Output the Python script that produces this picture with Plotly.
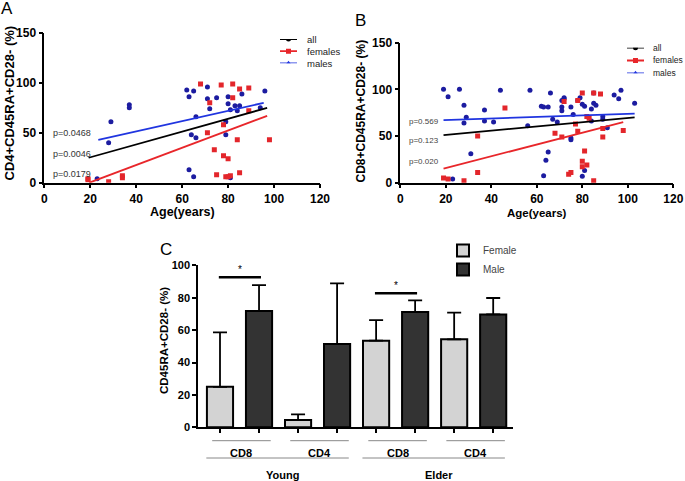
"""
Age vs CD45RA+CD28- T-cell share (panels A, B) and sex comparison bars (panel C).
"""

## ----------- imports ----------- ##
import plotly.graph_objects as go


## ----------- data ----------- ##
# panel A: CD4+CD45RA+CD28- (%)
a_fem_age = [19, 19, 28, 34, 34, 68, 77, 82, 85, 89, 72, 82, 89, 78, 71, 84, 98, 74, 78, 80, 75, 79, 81, 85, 80]
a_fem_val = [4, 3, 1, 7, 5, 99, 98, 99, 94, 95, 80, 85, 72, 58, 50, 43, 43, 33, 27, 24, 8, 6, 7, 10, 6]
a_male_age = [23, 28, 29, 37, 37, 62, 63, 63, 65, 64, 66, 66, 65, 71, 71, 72, 75, 79, 80, 80, 81, 81, 83, 85, 84, 86, 94, 96, 79]
a_male_val = [4, 40, 61, 78, 75, 93, 86, 13, 92, 48, 45, 66, 6, 96, 84, 74, 85, 48, 86, 79, 73, 5, 77, 77, 72, 89, 75, 92, 61]
a_fit_all = ([19.3, 97], [25, 75])
a_fit_fem = ([19.6, 97], [0, 67])
a_fit_male = ([23.5, 95.5], [43, 80])
a_pvals = ["p=0.0468", "p=0.0046", "p=0.0179"]
a_pval_y = [50, 29, 9]

# panel B: CD8+CD45RA+CD28- (%)
b_fem_age = [19, 21, 28, 34, 34, 46, 72, 78, 80, 85, 88, 82, 83, 77, 89, 98, 68, 78, 71, 89, 81, 80, 82, 80, 74, 75, 85]
b_fem_val = [5, 4, 2, 50, 11, 80, 87, 88, 96, 96, 95, 71, 69, 63, 58, 56, 53, 55, 49, 49, 34, 23, 19, 17, 9, 11, 2]
b_male_age = [19, 21, 26, 28, 37, 44, 29, 28, 37, 41, 31, 23, 57, 66, 62, 63, 65, 71, 72, 72, 71, 71, 75, 79, 78,
              80, 81, 85, 84, 85, 86, 94, 97, 96, 103, 67, 69, 76, 84, 89, 89, 56, 91, 75, 75, 65, 64, 81, 63, 80]
b_male_val = [100, 92, 100, 83, 78, 99, 70, 64, 66, 65, 31, 4, 99, 96, 82, 81, 81, 88, 91, 90, 81, 77, 81, 91, 88,
              84, 82, 96, 79, 85, 83, 94, 99, 90, 85, 68, 65, 73, 66, 71, 68, 61, 59, 48, 46, 33, 24, 13, 7.5, 7]
b_fit_all = ([19, 103], [51, 70])
b_fit_fem = ([19, 98], [15, 65])
b_fit_male = ([19, 103], [67, 74])
b_pvals = ["p=0.569", "p=0.123", "p=0.020"]
b_pval_y = [66, 45, 23]

# key of the two age panels
fit_names = ["all", "females", "males"]
fit_colors = ["black", "#e8262a", "#2035e0"]
fit_symbols = ["circle", "square", "triangle-up"]

# panel C: bars (mean and top of error bar)
c_age_groups = ["Young", "Elder"]
c_cells = ["CD8", "CD4", "CD8", "CD4"]
c_fem_mean = [25, 4.5, 53.5, 54.3]
c_fem_top = [58.6, 8, 66.2, 70.8]
c_male_mean = [71.8, 51.4, 71.2, 69.7]
c_male_top = [87.8, 88.9, 78.4, 79.8]
c_sig_pairs = [0, 2]          # pair index with a * bracket
c_sig_y = [92.6, 82.7]

FONT = "Liberation Sans, Arial, sans-serif"
RED_PT, BLUE_PT = "#e3262b", "#1c1ca0"
FEMALE_COL, MALE_COL = "#d3d3d3", "#333333"


## ----------- helpers ----------- ##
def W(px):
	return px / 685

def H(py):
	return 1 - py / 481


def add_scatter_panel(fig, xa, ya, fem, male, fits):
	"""Points and the three fit lines for one age panel."""
	fig.add_trace(go.Scatter(x=male[0], y=male[1], mode="markers", xaxis=xa, yaxis=ya,
		marker=dict(color=BLUE_PT, size=5, symbol="circle")))
	fig.add_trace(go.Scatter(x=fem[0], y=fem[1], mode="markers", xaxis=xa, yaxis=ya,
		marker=dict(color=RED_PT, size=5, symbol="square")))
	for (fx, fy), col in zip(fits, fit_colors):
		fig.add_trace(go.Scatter(x=fx, y=fy, mode="lines", xaxis=xa, yaxis=ya, line=dict(color=col, width=1.8)))


def add_key(fig, xa, ya):
	"""Small hand-made key (plotly legend rows are too tall here)."""
	for i, (col, sym) in enumerate(zip(fit_colors, fit_symbols)):
		fig.add_trace(go.Scatter(x=[0, 1], y=[i, i], mode="lines", xaxis=xa, yaxis=ya,
			line=dict(color=col, width=1.8)))
		fig.add_trace(go.Scatter(x=[0.5], y=[i], mode="markers", xaxis=xa, yaxis=ya,
			marker=dict(color=col, size=5, symbol=sym)))


## ----------- figure ----------- ##
fig = go.Figure()

add_scatter_panel(fig, "x", "y", (a_fem_age, a_fem_val), (a_male_age, a_male_val), [a_fit_all, a_fit_fem, a_fit_male])
add_scatter_panel(fig, "x2", "y2", (b_fem_age, b_fem_val), (b_male_age, b_male_val), [b_fit_all, b_fit_fem, b_fit_male])
add_key(fig, "x4", "y4")
add_key(fig, "x5", "y5")

# panel C bars: female at even slots, male at odd slots
fem_x = [2 * i for i in range(len(c_cells))]
male_x = [2 * i + 1 for i in range(len(c_cells))]
for xs, means, tops, col, name in [(fem_x, c_fem_mean, c_fem_top, FEMALE_COL, "Female"),
		(male_x, c_male_mean, c_male_top, MALE_COL, "Male")]:
	fig.add_trace(go.Bar(x=xs, y=means, name=name, xaxis="x3", yaxis="y3", width=0.67,
		marker=dict(color=col, line=dict(color="black", width=2)),
		error_y=dict(type="data", symmetric=False, array=[t - m for t, m in zip(tops, means)],
			arrayminus=[0] * len(means), color="black", thickness=1.8, width=7)))

# only the bar traces go into the built-in legend
for tr in fig.data:
	tr.showlegend = tr.type == "bar"

axis_common = dict(showline=True, linecolor="black", linewidth=1.5, ticks="outside", ticklen=4, tickwidth=1.5,
	tickcolor="black", showgrid=False, zeroline=False, automargin=False,
	tickfont=dict(family=FONT, size=12, color="black", weight="bold"))
key_axis = dict(showline=False, showticklabels=False, ticks="", showgrid=False, zeroline=False, fixedrange=True)

fig.update_layout(
	width=685, height=481, margin=dict(l=0, r=0, t=0, b=0, autoexpand=False),
	plot_bgcolor="white", paper_bgcolor="white", barmode="overlay", showlegend=True,
	font=dict(family=FONT),
	xaxis=dict(axis_common, domain=[W(44.3), W(320)], range=[0, 120], dtick=20, anchor="y"),
	yaxis=dict(axis_common, domain=[H(182.7), H(33)], range=[0, 150], dtick=50, anchor="x"),
	xaxis2=dict(axis_common, domain=[W(400.3), W(673.3)], range=[0, 120], dtick=20, anchor="y2"),
	yaxis2=dict(axis_common, domain=[H(182.7), H(42.7)], range=[0, 150], dtick=50, anchor="x2"),
	xaxis3=dict(axis_common, domain=[W(198.3), W(512.7)], range=[-0.556, 7.5], tickvals=fem_x + male_x,
		showticklabels=False, linewidth=2, tickwidth=2, anchor="y3"),
	yaxis3=dict(axis_common, domain=[H(427.3), H(265.3)], range=[0, 100], dtick=20, linewidth=2, tickwidth=2,
		anchor="x3", tickfont=dict(family=FONT, size=11, color="black", weight="bold")),
	# key boxes: the line spans x 0..1 (17 px), labels sit further right; rows 0..2 from top
	xaxis4=dict(key_axis, domain=[W(280), W(331)], range=[0, 3], anchor="y4"),
	yaxis4=dict(key_axis, domain=[H(63.3), H(39)], range=[2, 0], anchor="x4"),
	xaxis5=dict(key_axis, domain=[W(627), W(678)], range=[0, 3], anchor="y5"),
	yaxis5=dict(key_axis, domain=[H(73.3), H(47.7)], range=[2, 0], anchor="x5"),
	legend=dict(x=W(443), y=H(236), xanchor="left", yanchor="top", bgcolor="rgba(0,0,0,0)",
		font=dict(family=FONT, size=10, color="#444"), itemwidth=30),
)

## ----------- text ----------- ##
ann = []
def txt(x, y, s, size, xref="paper", yref="paper", **kw):
	color = kw.pop("color", "black")
	weight = kw.pop("weight", "normal")
	kw.setdefault("xanchor", "center")
	kw.setdefault("yanchor", "middle")
	ann.append(dict(x=x, y=y, xref=xref, yref=yref, text=s, showarrow=False,
		font=dict(family=FONT, size=size, color=color, weight=weight), **kw))

# panel letters
txt(W(7), H(9), "A", 17)
txt(W(361), H(21), "B", 17)
txt(W(166), H(249), "C", 17)

# axis titles
txt(W(8.5), H(103), "CD4+CD45RA+CD28- (%)", 13, weight="bold", textangle=-90)
txt(W(183), H(212), "Age(years)", 12.5, weight="bold")
txt(W(360.5), H(111), "CD8+CD45RA+CD28- (%)", 12, weight="bold", textangle=-90)
txt(W(536.5), H(212.5), "Age(years)", 11.5, weight="bold")
txt(W(164), H(341), "CD45RA+CD28- (%)", 11.5, weight="bold", textangle=-90)

# p values
for s, y in zip(a_pvals, a_pval_y):
	txt(2.8, y, s, 9, xref="x", yref="y", xanchor="left", color="#333")
for s, y in zip(b_pvals, b_pval_y):
	txt(2.8, y, s, 8, xref="x2", yref="y2", xanchor="left", color="#444")

# key labels
for i, name in enumerate(fit_names):
	txt(1.45, i, name, 9.5, xref="x4", yref="y4", xanchor="left", color="#222")
	txt(1.4, i, name, 8.5, xref="x5", yref="y5", xanchor="left", color="#222")

# significance brackets
shapes = []
for p, y in zip(c_sig_pairs, c_sig_y):
	shapes.append(dict(type="line", xref="x3", yref="y3", x0=2 * p - 0.03, x1=2 * p + 1.05, y0=y, y1=y,
		line=dict(color="black", width=2.5)))
	txt(2 * p + 0.5, y + 5, "*", 10, xref="x3", yref="y3")

# cell-type and age-group labels under panel C
for i, cell in enumerate(c_cells):
	shapes.append(dict(type="line", xref="x3", yref="paper", x0=2 * i - 0.2, x1=2 * i + 1.3,
		y0=H(440.7), y1=H(440.7), line=dict(color="#888", width=1)))
	txt(2 * i + 0.55, H(453), cell, 11, xref="x3", weight="bold")
for g, name in enumerate(c_age_groups):
	shapes.append(dict(type="line", xref="x3", yref="paper", x0=4 * g - 0.35, x1=4 * g + 3.3,
		y0=H(458), y1=H(458), line=dict(color="#888", width=1)))
	txt(4 * g + 1.6, H(475), name, 11, xref="x3", weight="bold")

fig.update_layout(annotations=ann, shapes=shapes)

# page margin off so the 685x481 figure sits flush in the window; no toolbar
fig.write_html("out.html", config={"displayModeBar": False},
	post_script="document.body.style.margin = '0';")
